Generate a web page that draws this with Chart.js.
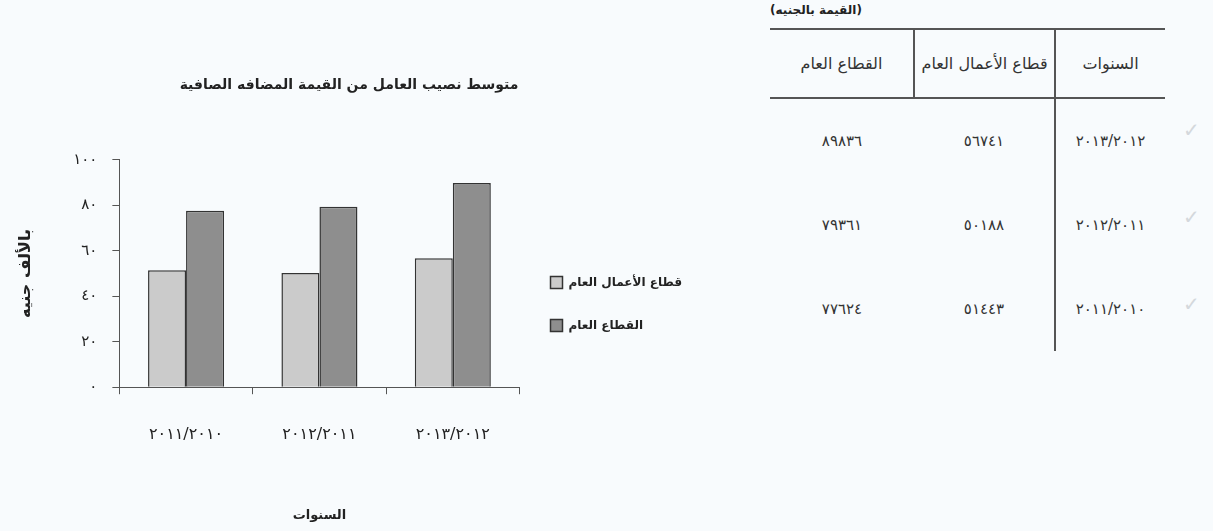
<!DOCTYPE html>
<html lang="ar">
<head>
<meta charset="utf-8">
<script src="https://cdn.jsdelivr.net/npm/chart.js@4.4.1/dist/chart.umd.min.js"></script>
<style>
    html, body { margin: 0; padding: 0; background: #f8fbfd; }
    body { width: 1213px; height: 531px; position: relative; overflow: hidden; font-family: "DejaVu Sans", sans-serif; color: #222; }
    #chartBox { position: absolute; left: 0; top: 0; width: 700px; height: 531px; }
    #unitNote { position: absolute; left: 770px; top: 3px; font-size: 12px; font-weight: bold; color: #222; direction: rtl; }
    #dataTable { position: absolute; left: 770px; top: 28px; border-collapse: collapse; direction: rtl; }
    #dataTable th, #dataTable td { text-align: center; font-weight: normal; color: #333; padding: 0; }
    #dataTable th { height: 67px; font-size: 16px; border-top: 2px solid #555; border-bottom: 2px solid #555; }
    #dataTable td { height: 84px; font-size: 15px; letter-spacing: 3px; }
    #dataTable .c-year { width: 109px; border-left: 2px solid #555; }
    #dataTable .c-bus { width: 139px; }
    #dataTable th.c-bus { border-left: 2px solid #555; }
    #dataTable .c-pub { width: 143px; }
    .tick-mark { position: absolute; left: 1183px; font-size: 20px; color: #d4d8dc; }
</style>
</head>
<body>
<div id="chartBox"><canvas id="valueAddedChart"></canvas></div>
<div id="unitNote">(القيمة بالجنيه)</div>
<table id="dataTable">
    <thead>
        <tr><th class="c-year">السنوات</th><th class="c-bus">قطاع الأعمال العام</th><th class="c-pub">القطاع العام</th></tr>
    </thead>
    <tbody id="tableBody"></tbody>
</table>
<div class="tick-mark" style="top:118px">✓</div>
<div class="tick-mark" style="top:205px">✓</div>
<div class="tick-mark" style="top:292px">✓</div>
<script>
    // values in Egyptian pounds
    var years = ['2011/2010', '2012/2011', '2013/2012'];
    var businessSector = [51443, 50188, 56741];
    var publicSector = [77624, 79361, 89836];
    var yTicks = [0, 20, 40, 60, 80, 100];

    var seriesNames = ['قطاع الأعمال العام', 'القطاع العام'];
    var chartTitle = 'متوسط نصيب العامل من القيمة المضافه الصافية';
    var yTitle = 'بالألف جنيه';
    var xTitle = 'السنوات';

    var digits = '٠١٢٣٤٥٦٧٨٩';
    function toArabic(s) {
        return String(s).replace(/[0-9]/g, function (d) { return digits[+d]; });
    }

    // table, newest year first
    var body = document.getElementById('tableBody');
    for (var i = years.length - 1; i >= 0; i--) {
        var tr = document.createElement('tr');
        tr.innerHTML = '<td class="c-year">' + toArabic(years[i]) + '</td>' +
            '<td class="c-bus">' + toArabic(businessSector[i]) + '</td>' +
            '<td class="c-pub">' + toArabic(publicSector[i]) + '</td>';
        body.appendChild(tr);
    }

    var axisColor = '#555';
    var textColor = '#222';
    var font = '"DejaVu Sans", sans-serif';

    new Chart(document.getElementById('valueAddedChart'), {
        type: 'bar',
        data: {
            labels: years.map(toArabic),
            datasets: [
                {
                    label: seriesNames[0],
                    data: businessSector.map(function (v) { return v / 1000; }),
                    backgroundColor: '#cbcbcb',
                    borderColor: '#333',
                    borderWidth: 1.5,
                },
                {
                    label: seriesNames[1],
                    data: publicSector.map(function (v) { return v / 1000; }),
                    backgroundColor: '#8e8e8e',
                    borderColor: '#333',
                    borderWidth: 1.5,
                },
            ],
        },
        options: {
            responsive: true,
            maintainAspectRatio: false,
            animation: false,
            categoryPercentage: 0.57,
            barPercentage: 1.0,
            layout: { padding: { left: 8, right: 10, top: 77, bottom: 0 } },
            plugins: {
                title: {
                    display: true,
                    text: chartTitle,
                    color: textColor,
                    font: { family: font, size: 14, weight: 'bold' },
                    padding: { top: 0, bottom: 66 },
                },
                legend: {
                    position: 'right',
                    align: 'center',
                    labels: {
                        color: textColor,
                        boxWidth: 12,
                        boxHeight: 12,
                        padding: 31,
                        font: { family: font, size: 12, weight: 'bold' },
                    },
                },
                tooltip: { enabled: false },
            },
            scales: {
                x: {
                    grid: { display: true, drawOnChartArea: false, drawTicks: true, tickLength: 7, color: axisColor, offset: true },
                    border: { display: true, color: axisColor, width: 1 },
                    ticks: { color: textColor, padding: 31, font: { family: font, size: 16 } },
                    title: {
                        display: true,
                        text: xTitle,
                        color: textColor,
                        font: { family: font, size: 13, weight: 'bold' },
                        padding: { top: 32, bottom: 8 },
                    },
                },
                y: {
                    min: yTicks[0],
                    max: yTicks[yTicks.length - 1],
                    afterBuildTicks: function (axis) {
                        axis.ticks = yTicks.map(function (v) { return { value: v }; });
                    },
                    grid: { display: true, drawOnChartArea: false, drawTicks: true, tickLength: 7, color: axisColor },
                    border: { display: true, color: axisColor, width: 1 },
                    ticks: {
                        color: textColor,
                        padding: 15,
                        font: { family: font, size: 15 },
                        callback: function (v) { return toArabic(v); },
                    },
                    title: {
                        display: true,
                        text: yTitle,
                        color: textColor,
                        font: { family: font, size: 16, weight: 'bold' },
                        padding: { top: 8, bottom: 23 },
                    },
                },
            },
        },
    });
</script>
</body>
</html>
